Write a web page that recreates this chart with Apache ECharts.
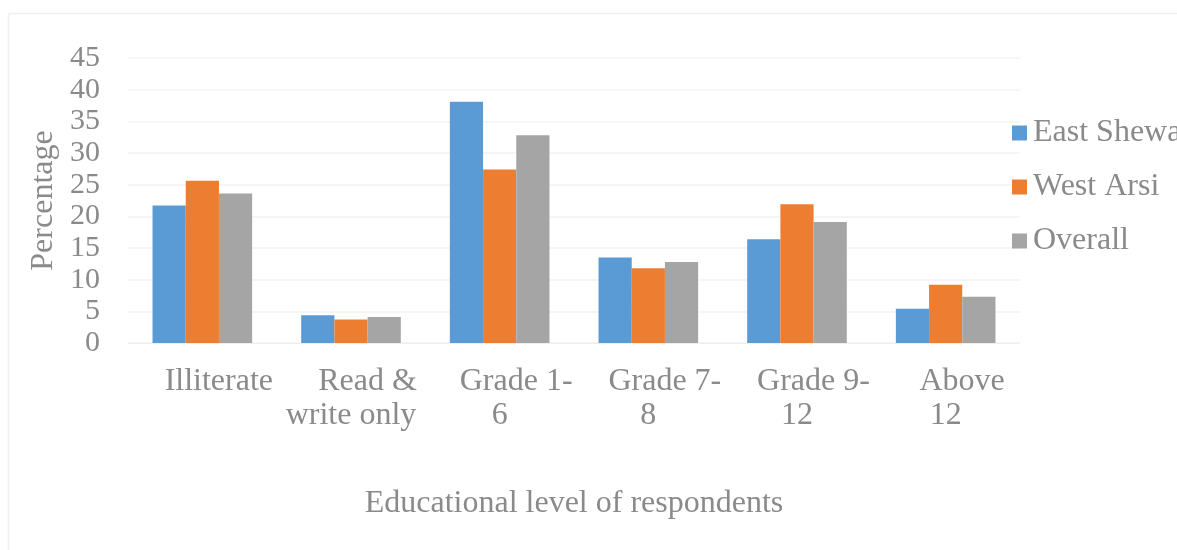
<!DOCTYPE html>
<html>
<head>
<meta charset="utf-8">
<script src="https://cdn.jsdelivr.net/npm/echarts@6/dist/echarts.min.js"></script>
<style>
  html, body { margin: 0; padding: 0; background: #fff; }
  #chart { width: 1177px; height: 550px; }
</style>
</head>
<body>
<div id="chart"></div>
<script>
// categories and values
var categories = ['Illiterate', 'Read &\nwrite only', 'Grade 1-\n6', 'Grade 7-\n8', 'Grade 9-\n12', 'Above\n12'];
var eastShewa = [21.7, 4.4, 38.1, 13.5, 16.4, 5.4];
var westArsi = [25.6, 3.7, 27.4, 11.8, 21.9, 9.2];
var overall = [23.6, 4.1, 32.8, 12.8, 19.1, 7.3];
var yTicks = { min: 0, max: 45, interval: 5 };

var textColor = '#8a8a8a';
var font = '"Liberation Serif", "DejaVu Serif", serif';
var fs = 32;

var myChart = echarts.init(document.getElementById('chart'));
var option = {
    animation: false,
    backgroundColor: '#fff',
    textStyle: { fontFamily: font, color: textColor },
    /*chart frame (only top and left edges visible)*/
    graphic: [
        { type: 'line', shape: { x1: 8.5, y1: 13.5, x2: 1177, y2: 13.5 }, style: { stroke: '#f0f0f0', lineWidth: 1.5 } },
        { type: 'line', shape: { x1: 8.5, y1: 13.5, x2: 8.5, y2: 550 }, style: { stroke: '#f0f0f0', lineWidth: 1.5 } }
    ],
    grid: { left: 128, right: 157, top: 58, bottom: 207 },
    legend: {
        orient: 'vertical',
        left: 1007,
        top: 112,
        itemWidth: 15,
        itemHeight: 15,
        itemGap: 22,
        icon: 'rect',
        textStyle: { fontSize: fs, color: textColor, fontFamily: font, lineHeight: 32, padding: [0, 0, 0, 1] },
        data: ['East Shewa', 'West Arsi', 'Overall']
    },
    xAxis: {
        type: 'category',
        data: categories,
        name: 'Educational level of respondents',
        nameLocation: 'middle',
        nameGap: 145,
        nameTextStyle: { fontSize: fs, color: textColor, fontFamily: font },
        axisLine: { lineStyle: { color: '#eeeeee' } },
        axisTick: { show: false },
        axisLabel: {
            interval: 0,
            margin: 22,
            // first line sits a little right of centre in the original
            formatter: function (v) {
                var parts = v.split('\n');
                var s = '{a|' + parts[0] + '}';
                if (parts.length > 1) s += '\n{b|' + parts[1] + '}';
                return s;
            },
            rich: {
                a: { fontSize: fs, color: textColor, fontFamily: font, lineHeight: 34, padding: [0, 0, 0, 33] },
                b: { fontSize: fs, color: textColor, fontFamily: font, lineHeight: 34 }
            }
        }
    },
    yAxis: {
        type: 'value',
        min: yTicks.min,
        max: yTicks.max,
        interval: yTicks.interval,
        name: 'Percentage',
        nameLocation: 'middle',
        nameGap: 66,
        nameTextStyle: { fontSize: fs, color: textColor, fontFamily: font },
        axisLine: { show: false },
        axisTick: { show: false },
        axisLabel: {
            margin: 28,
            fontSize: 30,
            lineHeight: 30,
            color: textColor,
            fontFamily: font,
            showMinLabel: true, showMaxLabel: true, hideOverlap: false
        },
        splitLine: { lineStyle: { color: '#f2f2f2', width: 1.5 } }
    },
    series: [
        { name: 'East Shewa', type: 'bar', data: eastShewa, barGap: '0%', barCategoryGap: '33%',
          itemStyle: { color: '#5b9bd5' } },
        { name: 'West Arsi', type: 'bar', data: westArsi, barGap: '0%', barCategoryGap: '33%',
          itemStyle: { color: '#ed7d31' } },
        { name: 'Overall', type: 'bar', data: overall, barGap: '0%', barCategoryGap: '33%',
          itemStyle: { color: '#a5a5a5' } }
    ]
};
myChart.setOption(option, true);
</script>
</body>
</html>
